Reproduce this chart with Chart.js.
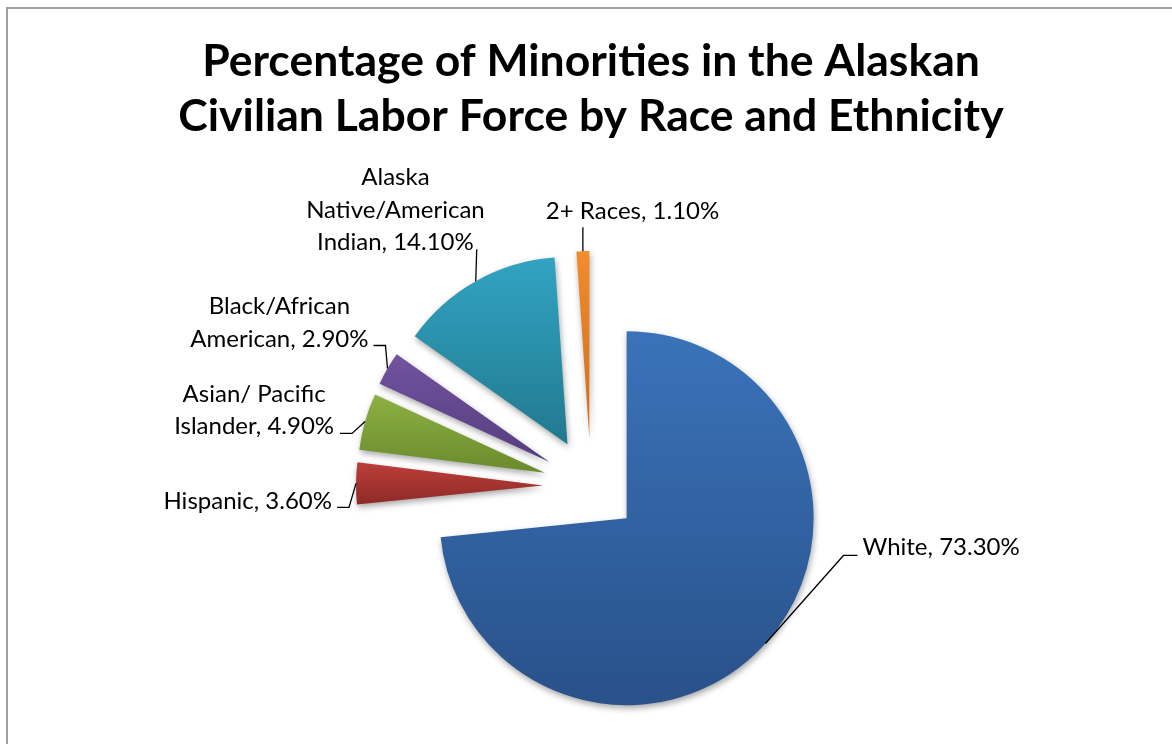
<!DOCTYPE html>
<html>
<head>
<meta charset="utf-8">
<script src="https://cdn.jsdelivr.net/npm/chart.js@4.4.1/dist/chart.umd.min.js"></script>
<style>
  html, body { margin: 0; padding: 0; background: #fff; }
  #wrap { position: relative; width: 1172px; height: 744px; }
</style>
</head>
<body>
<div id="wrap"><canvas id="chart" width="1172" height="744"></canvas></div>
<script>
// DATA
const categoryLines = [
    ['White'],
    ['Hispanic'],
    ['Asian/ Pacific', 'Islander'],
    ['Black/African', 'American'],
    ['Alaska', 'Native/American', 'Indian'],
    ['2+ Races']
];
const percentages = [73.3, 3.6, 4.9, 2.9, 14.1, 1.1];

// slice gradient (top -> bottom), Excel 2007 look
const sliceTop = ['#3a73ba', '#bd3e3a', '#8db143', '#72539f', '#31a3c2', '#f28c2c'];
const sliceBottom = ['#29518a', '#8e2a27', '#6a8a2c', '#553d7f', '#22798f', '#cf6c1c'];

// how far every slice is pulled out, px
const EXPLODE = 48;
const LABEL_SIZE = 24;
const LINE_H = 32.5;

// leader line shape per label: elbow offset from the slice edge, horizontal tail,
// text block offset from the tail end (side = which edge of the block touches it)
const leaderLayout = [
    {elbow: [78, -88], tail: 14, text: [5, 0], side: 'left'},
    {elbow: [-7, 24], tail: -12, text: [-5, 2], side: 'right'},
    {elbow: [-13, 12], tail: -12, text: [-6, 1], side: 'right'},
    {elbow: [-2, -23], tail: -12, text: [-5, 1], side: 'right'},
    {elbow: [1, -32], tail: 0, text: [8, 1], side: 'right'},
    {elbow: [0, -24], tail: 0, text: [-37, -8], side: 'left'}
];

function labelText(i, value) {
    const lines = categoryLines[i].slice();
    lines[lines.length - 1] += ', ' + value.toFixed(2) + '%';
    return lines;
}

const explodedPie = {
    id: 'explodedPie',
    beforeDraw(chart) {
        const ctx = chart.ctx;
        ctx.save();
        ctx.fillStyle = '#ffffff';
        ctx.fillRect(0, 0, chart.width, chart.height);
        // chart frame (only left and top edge are inside the picture)
        ctx.fillStyle = '#a0a0a0';
        ctx.fillRect(6, 7, 2, chart.height);
        ctx.fillRect(6, 7, chart.width, 2);
        ctx.restore();
    },
    beforeDatasetDraw(chart, args) {
        const ctx = chart.ctx;
        args.meta.data.forEach((arc, i) => {
            const mid = (arc.startAngle + arc.endAngle) / 2;
            // vertical extent of the slice for its gradient
            let top = arc.y, bottom = arc.y;
            for (let k = 0; k <= 40; k++) {
                const a = arc.startAngle + (arc.endAngle - arc.startAngle) * k / 40;
                const py = arc.y + Math.sin(a) * arc.outerRadius;
                top = Math.min(top, py);
                bottom = Math.max(bottom, py);
            }
            const grad = ctx.createLinearGradient(0, top, 0, bottom);
            grad.addColorStop(0, sliceTop[i]);
            grad.addColorStop(1, sliceBottom[i]);

            const el = Object.create(arc);
            el.options = Object.assign({}, arc.options, {backgroundColor: grad});

            ctx.save();
            ctx.translate(Math.cos(mid) * EXPLODE, Math.sin(mid) * EXPLODE);
            ctx.shadowColor = 'rgba(0,0,0,0.35)';
            ctx.shadowBlur = 6;
            ctx.shadowOffsetX = 1;
            ctx.shadowOffsetY = 3;
            el.draw(ctx);
            ctx.restore();
        });
        return false;
    },
    afterDraw(chart) {
        const ctx = chart.ctx;
        const meta = chart.getDatasetMeta(0);
        const values = chart.data.datasets[0].data;
        ctx.save();
        ctx.font = LABEL_SIZE + 'px Lato';
        ctx.fillStyle = '#000000';
        ctx.strokeStyle = '#000000';
        ctx.lineWidth = 1.3;
        meta.data.forEach((arc, i) => {
            const mid = (arc.startAngle + arc.endAngle) / 2;
            const r = EXPLODE + arc.outerRadius;
            const ex = arc.x + Math.cos(mid) * r;
            const ey = arc.y + Math.sin(mid) * r;
            const L = leaderLayout[i];
            const bx = ex + L.elbow[0], by = ey + L.elbow[1];
            const tx = bx + L.tail;

            ctx.beginPath();
            ctx.moveTo(ex, ey);
            ctx.lineTo(bx, by);
            ctx.lineTo(tx, by);
            ctx.stroke();

            const lines = labelText(i, values[i]);
            const w = Math.max(...lines.map(s => ctx.measureText(s).width));
            const left = L.side === 'left' ? tx + L.text[0] : tx + L.text[0] - w;
            const baseY = by + L.text[1];
            ctx.textAlign = 'center';
            ctx.textBaseline = 'alphabetic';
            lines.forEach((s, k) => {
                ctx.fillText(s, left + w / 2, baseY - (lines.length - 1 - k) * LINE_H);
            });
        });
        ctx.restore();
    }
};

new Chart(document.getElementById('chart').getContext('2d'), {
    type: 'pie',
    data: {
        labels: categoryLines.map(l => l.join(' ')),
        datasets: [
            {
                data: percentages,
                backgroundColor: sliceTop,
                borderWidth: 0,
                radius: 187,
            },
        ],
    },
    options: {
        responsive: false,
        animation: false,
        events: [],
        layout: {padding: {left: 10, right: 0, top: 0, bottom: 0}},
        plugins: {
            legend: {display: false},
            tooltip: {enabled: false},
            title: {
                display: true,
                text: ['Percentage of Minorities in the Alaskan', 'Civilian Labor Force by Race and Ethnicity'],
                color: '#000000',
                font: {family: 'Lato', size: 44.5, weight: 'bold', lineHeight: 55 / 44.5},
                padding: {top: 34, bottom: 84},
            },
        },
    },
    plugins: [explodedPie],
});
</script>
</body>
</html>
